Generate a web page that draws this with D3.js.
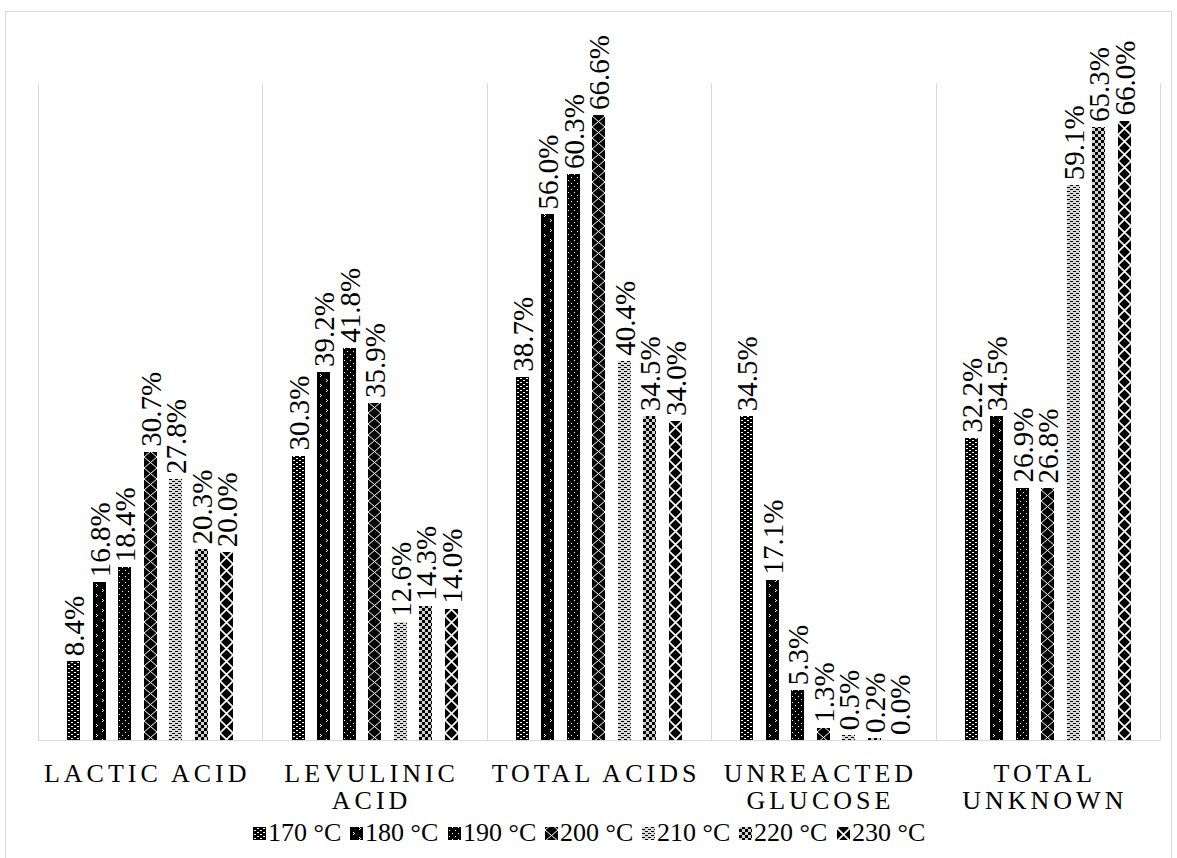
<!DOCTYPE html>
<html>
<head>
<meta charset="utf-8">
<script src="https://cdn.jsdelivr.net/npm/d3@7/dist/d3.min.js"></script>
<style>
  html, body { margin: 0; padding: 0; background: #fff; }
  svg { display: block; }
  text { font-family: "Liberation Serif", "Times New Roman", serif; fill: #000; }
  pattern * { shape-rendering: crispEdges; }
</style>
</head>
<body>
<svg id="chart" width="1177" height="858"></svg>
<script>
// Product yields (%) by reaction temperature
const categories = ["Lactic Acid", "Levulinic Acid", "Total Acids", "Unreacted Glucose", "Total Unknown"];
const temps = ["170 °C", "180 °C", "190 °C", "200 °C", "210 °C", "220 °C", "230 °C"];
const t170 = [8.4, 30.3, 38.7, 34.5, 32.2];
const t180 = [16.8, 39.2, 56.0, 17.1, 34.5];
const t190 = [18.4, 41.8, 60.3, 5.3, 26.9];
const t200 = [30.7, 35.9, 66.6, 1.3, 26.8];
const t210 = [27.8, 12.6, 40.4, 0.5, 59.1];
const t220 = [20.3, 14.3, 34.5, 0.2, 65.3];
const t230 = [20.0, 14.0, 34.0, 0.0, 66.0];
const seriesValues = [t170, t180, t190, t200, t210, t220, t230];
const yMax = 70;

const svg = d3.select("#chart");
const margin = { left: 38, right: 17, top: 83, bottom: 118 };
const W = 1177, H = 858;
const plotW = W - margin.left - margin.right;
const plotH = H - margin.top - margin.bottom;

// chart frame
svg.append("rect")
  .attr("x", 5.5).attr("y", 11.5)
  .attr("width", 1166).attr("height", 860)
  .attr("fill", "none").attr("stroke", "#d9d9d9");

// fill patterns, one per temperature
const defs = svg.append("defs");
function pat(id, w, h, bg) {
  const p = defs.append("pattern").attr("id", id)
    .attr("patternUnits", "userSpaceOnUse")
    .attr("width", w).attr("height", h);
  p.append("rect").attr("width", w).attr("height", h).attr("fill", bg);
  return p;
}
function px(p, x, y, w, h, c) {
  p.append("rect").attr("x", x).attr("y", y).attr("width", w).attr("height", h).attr("fill", c);
}
// 170: black with short white dashes
{
  const p = pat("p0", 6, 4, "#000");
  px(p, 1, 1, 2, 1, "#fff");
  px(p, 4, 3, 2, 1, "#fff");
}
// 180: black with sparse white chevrons
{
  const p = pat("p1", 13, 10, "#000");
  [[3, 1], [9, 6]].forEach(([x, y]) => {
    px(p, x, y, 1, 1, "#fff");
    px(p, x + 1, y + 1, 1, 1, "#fff");
    px(p, x, y + 2, 1, 1, "#fff");
  });
}
// 190: black with white dots
{
  const p = pat("p2", 6, 6, "#000");
  px(p, 1, 1, 1, 1, "#fff");
  px(p, 4, 4, 1, 1, "#fff");
}
// 200: black with thin white zigzag
{
  const p = pat("p3", 13, 11, "#000");
  p.append("path").attr("d", "M0,0 L6.5,5.5 L0,11 M13,0 L6.5,5.5 L13,11")
    .attr("stroke", "#fff").attr("stroke-width", 1).attr("fill", "none")
    .style("shape-rendering", "auto");
}
// 210: light grey with black dashes
{
  const p = pat("p4", 6, 4, "#d9d9d9");
  px(p, 0, 0, 3, 1, "#000");
  px(p, 3, 2, 3, 1, "#000");
}
// 220: small checkerboard
{
  const p = pat("p5", 6, 6, "#d0d0d0");
  px(p, 0, 0, 3, 3, "#000");
  px(p, 3, 3, 3, 3, "#000");
}
// 230: black diamonds with white trellis
{
  const p = pat("p6", 13, 13, "#000");
  p.append("path").attr("d", "M0,0 L13,13 M13,0 L0,13")
    .attr("stroke", "#fff").attr("stroke-width", 1.6).attr("fill", "none")
    .style("shape-rendering", "auto");
}

const g = svg.append("g").attr("transform", `translate(${margin.left},${margin.top})`);

const x0 = d3.scaleBand().domain(categories).range([0, plotW]).paddingInner(0).paddingOuter(0);
const x1 = d3.scaleBand().domain(temps).range([0, x0.bandwidth()])
  .paddingInner(0.49).paddingOuter(1.145);
const y = d3.scaleLinear().domain([0, yMax]).range([plotH, 0]);

// vertical separators between categories
const edges = categories.map(c => x0(c)).concat([plotW]);
g.selectAll("line.sep").data(edges).join("line")
  .attr("class", "sep")
  .attr("x1", d => Math.round(d) + 0.5).attr("x2", d => Math.round(d) + 0.5)
  .attr("y1", 0).attr("y2", plotH)
  .attr("stroke", "#d9d9d9").attr("stroke-width", 1);

// bars and value labels
const barData = [];
categories.forEach((c, ci) => {
  temps.forEach((t, si) => {
    barData.push({ c, t, si, v: seriesValues[si][ci] });
  });
});

const bw = Math.round(x1.bandwidth());
const bars = g.selectAll("g.bar").data(barData).join("g")
  .attr("class", "bar")
  .attr("transform", d => `translate(${Math.round(x0(d.c) + x1(d.t))},0)`);

bars.append("rect")
  .attr("x", 0)
  .attr("y", d => Math.round(y(d.v)))
  .attr("width", bw)
  .attr("height", d => plotH - Math.round(y(d.v)))
  .attr("fill", d => `url(#p${d.si})`);

bars.append("text")
  .attr("transform", d => `translate(${bw / 2},${y(d.v) - 5}) rotate(-90)`)
  .attr("dy", "0.36em")
  .attr("font-size", 29)
  .text(d => d.v.toFixed(1) + "%");

// category axis line
g.append("line")
  .attr("x1", 0).attr("x2", plotW)
  .attr("y1", plotH + 0.5).attr("y2", plotH + 0.5)
  .attr("stroke", "#d9d9d9").attr("stroke-width", 1);

// category labels, wrapped to the band width
const labelG = g.selectAll("text.cat").data(categories).join("text")
  .attr("class", "cat")
  .attr("font-size", 26)
  .attr("letter-spacing", 4)
  .attr("text-anchor", "middle")
  .attr("transform", d => `translate(${x0(d) + x0.bandwidth() / 2 - 3},${plotH + 42})`);

labelG.each(function (d) {
  const el = d3.select(this);
  const words = d.toUpperCase().split(" ");
  const maxW = x0.bandwidth() - 8;
  let lines = [];
  let cur = [];
  const probe = el.append("tspan");
  words.forEach(w => {
    const test = cur.concat([w]).join(" ");
    probe.text(test);
    if (probe.node().getComputedTextLength() > maxW && cur.length) {
      lines.push(cur.join(" "));
      cur = [w];
    } else {
      cur.push(w);
    }
  });
  lines.push(cur.join(" "));
  probe.remove();
  lines.forEach((ln, i) => {
    el.append("tspan").attr("x", 0).attr("y", i * 27).text(ln);
  });
});

// legend
const legend = svg.append("g");
const items = legend.selectAll("g.item").data(temps).join("g").attr("class", "item");
items.append("rect")
  .attr("x", 0).attr("y", -14)
  .attr("width", 13).attr("height", 13)
  .attr("fill", (d, i) => `url(#p${i})`);
items.append("text")
  .attr("x", 15).attr("y", 0)
  .attr("font-size", 26)
  .text(d => d);
let off = 0;
const gap = 9;
const offs = [];
items.each(function () {
  offs.push(off);
  off += this.getBBox().width + gap;
});
const total = off - gap;
const startX = Math.round((W - total) / 2);
items.attr("transform", (d, i) => `translate(${startX + Math.round(offs[i])},841)`);
</script>
</body>
</html>
